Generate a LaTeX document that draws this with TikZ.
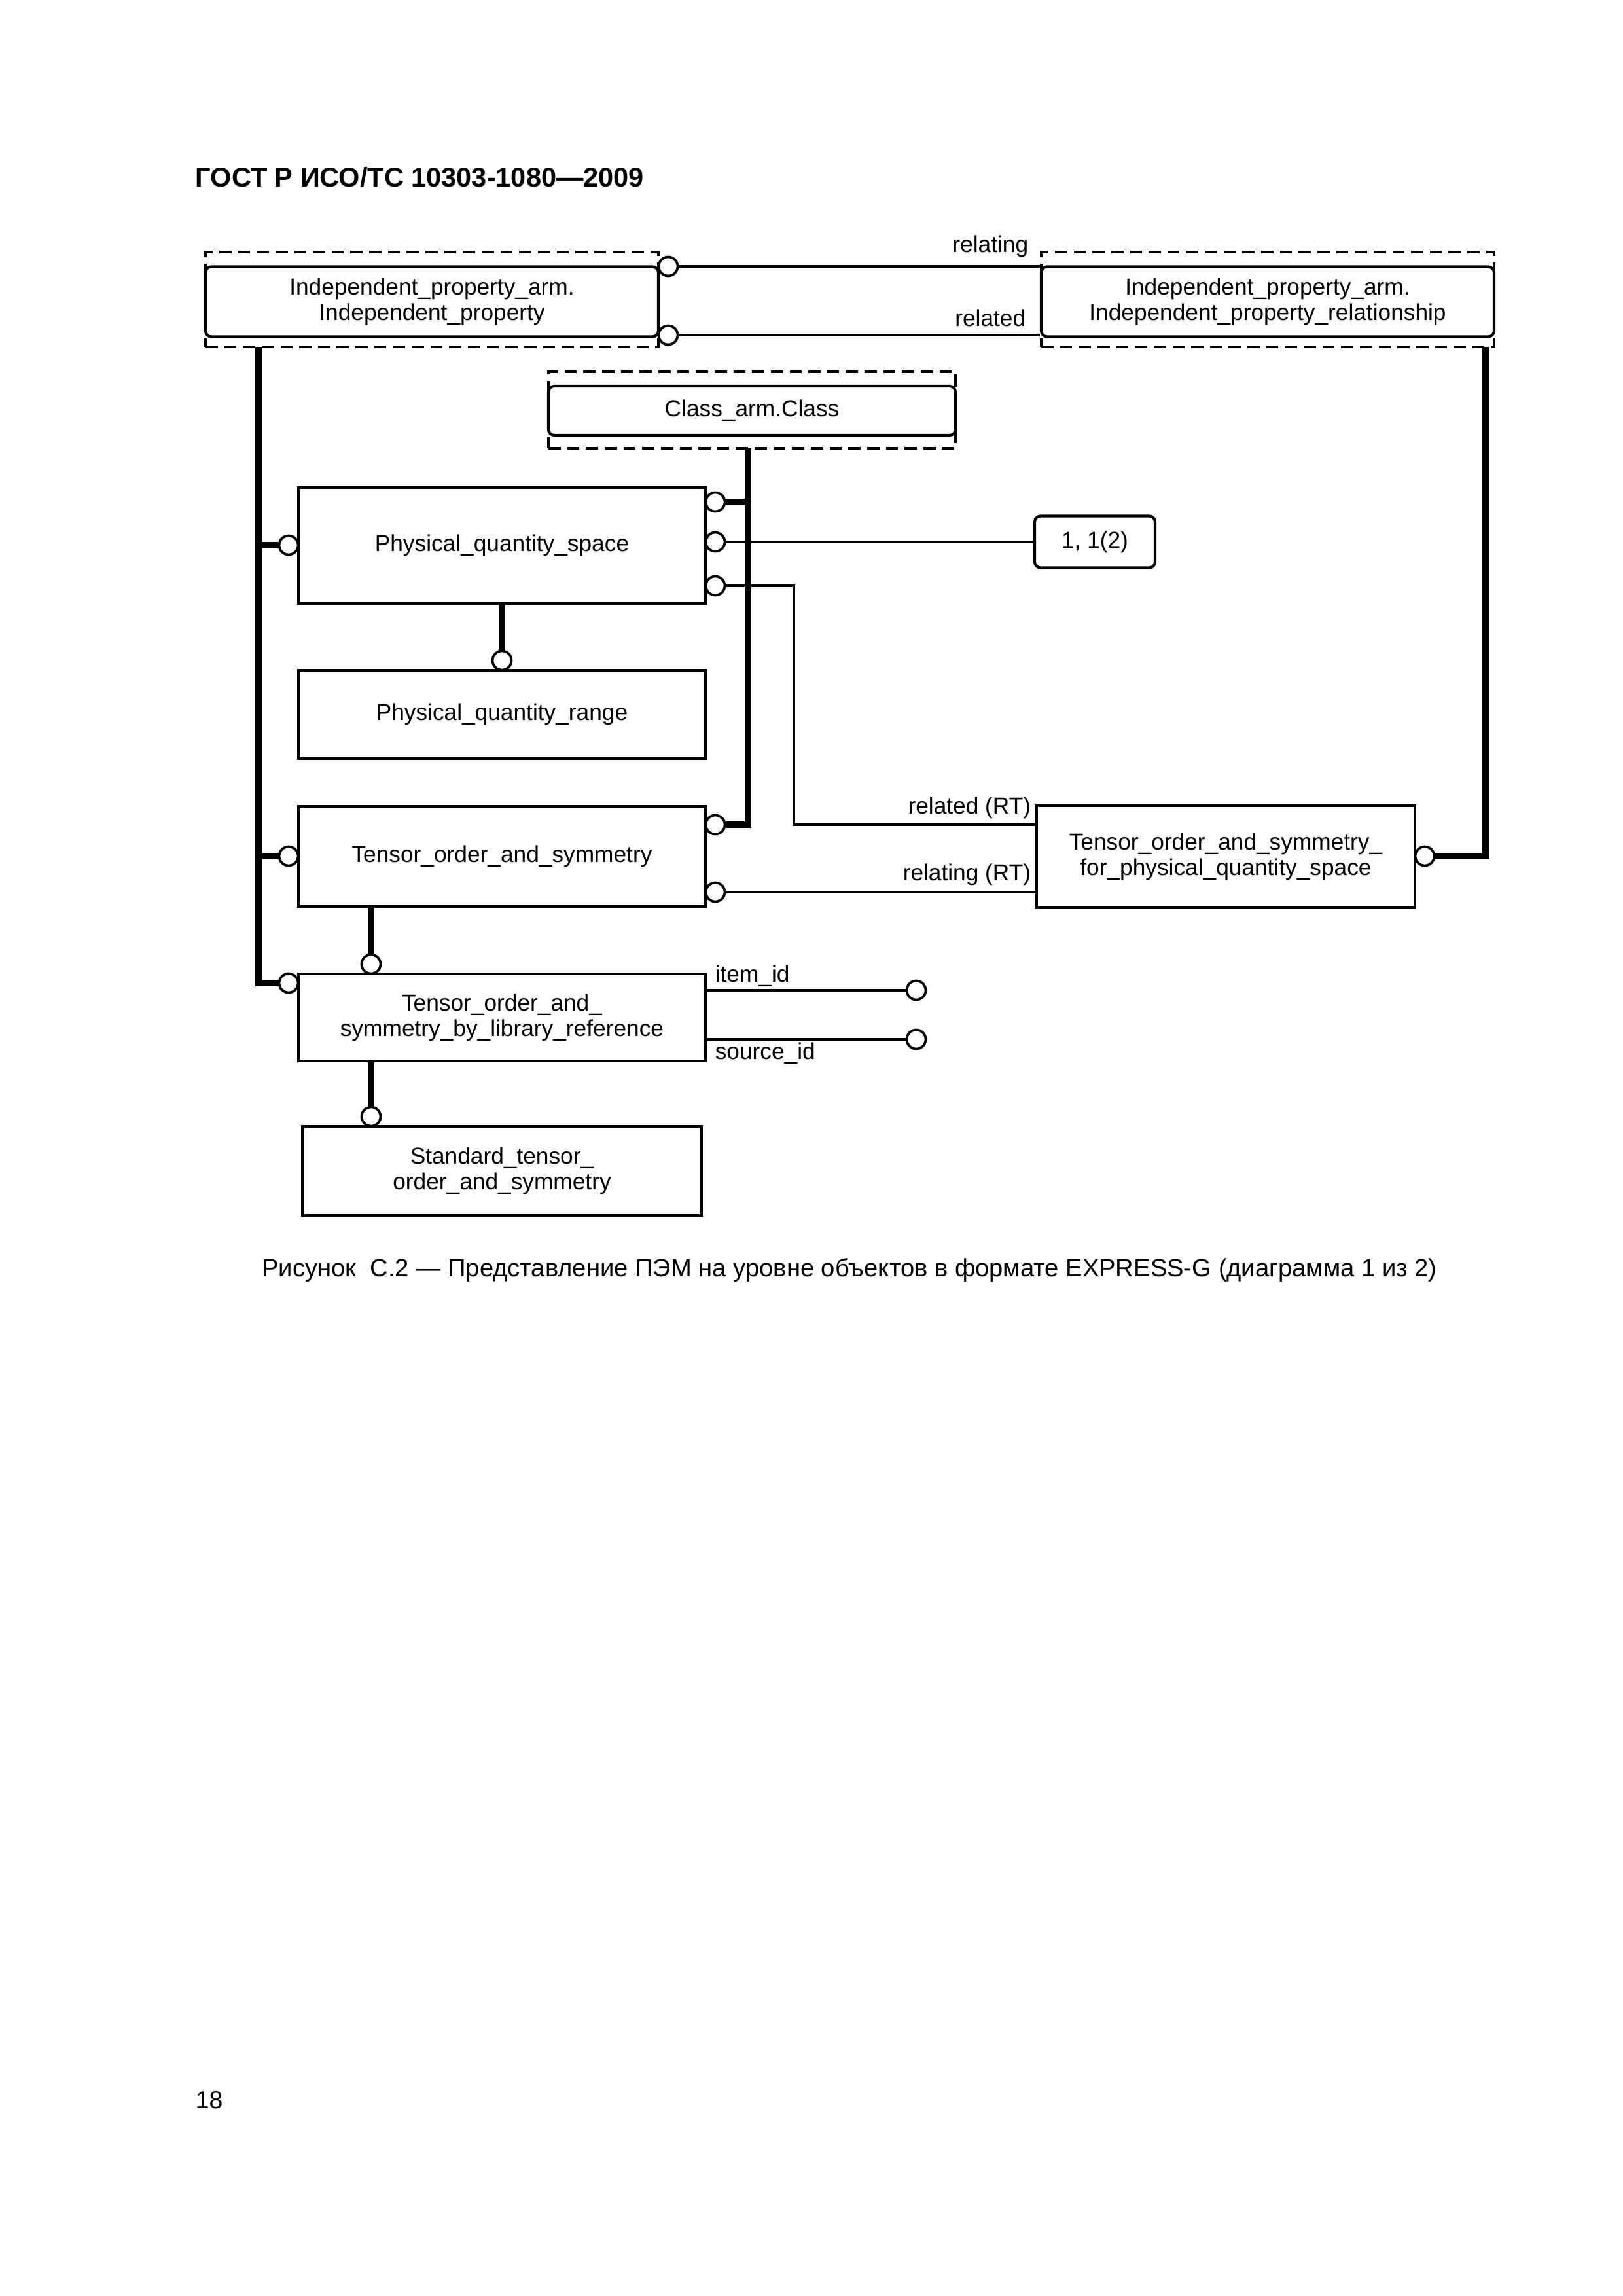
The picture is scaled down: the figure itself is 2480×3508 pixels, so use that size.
\documentclass[tikz,border=0pt]{standalone}
\usepackage{fontspec}
\setmainfont{Liberation Sans}
\newdimen\unitpx
\unitpx=0.08467mm
\newcommand\boxfont{\fontsize{8.5pt}{9.4pt}\selectfont}

\begin{document}
\begin{tikzpicture}[x=0.08467mm, y=-0.08467mm,
    ent/.style={draw, line width=1pt, align=center, inner sep=0pt, font=\boxfont},
    ifc/.style={draw, line width=1pt, dash pattern=on 4.5pt off 2.4pt},
    rnd/.style={ent, rounded corners=9*\unitpx},
    ring/.style={circle, draw, fill=white, line width=0.9pt, minimum size=29*\unitpx, inner sep=0pt},
    sub/.style={line width=2.2pt},
    rel/.style={line width=1pt},
    lbl/.style={font=\boxfont, inner sep=0pt}]
    \useasboundingbox (0,0) rectangle (2480,3508);

    \node[font=\bfseries\fontsize{10pt}{12pt}\selectfont, anchor=base west, inner sep=0pt] (title) at (298,285) {ГОСТ Р ИСО/ТС 10303-1080—2009};

    \node[ifc, minimum width=692*\unitpx, minimum height=145*\unitpx] (ipdash) at (660,457.5) {};
    \node[rnd, minimum width=692*\unitpx, minimum height=107*\unitpx] (iprnd) at (660,461) {Independent\_property\_arm.\\Independent\_property};
    \node[ifc, minimum width=692*\unitpx, minimum height=145*\unitpx] (iprdash) at (1937,457.5) {};
    \node[rnd, minimum width=692*\unitpx, minimum height=107*\unitpx] (iprrnd) at (1937,461) {Independent\_property\_arm.\\Independent\_property\_relationship};
    \node[ifc, minimum width=622*\unitpx, minimum height=117*\unitpx] (classdash) at (1149,626.5) {};
    \node[rnd, minimum width=622*\unitpx, minimum height=75*\unitpx] (classrnd) at (1149,627.5) {Class\_arm.Class};

    \node[ent, minimum width=622*\unitpx, minimum height=177*\unitpx] (pqs) at (767,833.5) {Physical\_quantity\_space};
    \node[ent, minimum width=622*\unitpx, minimum height=135*\unitpx] (pqr) at (767,1091.5) {Physical\_quantity\_range};
    \node[rnd, minimum width=184*\unitpx, minimum height=79*\unitpx] (card) at (1673,828) {1, 1(2)};
    \node[ent, minimum width=622*\unitpx, minimum height=153*\unitpx] (tos) at (767,1308.5) {Tensor\_order\_and\_symmetry};
    \node[ent, minimum width=578*\unitpx, minimum height=156*\unitpx] (tospqs) at (1873,1309) {Tensor\_order\_and\_symmetry\_\\for\_physical\_quantity\_space};
    \node[ent, minimum width=622*\unitpx, minimum height=133*\unitpx] (toslr) at (767,1554.5) {Tensor\_order\_and\_\\symmetry\_by\_library\_reference};
    \node[ent, minimum width=609*\unitpx, minimum height=136*\unitpx] (stos) at (767,1789) {Standard\_tensor\_\\order\_and\_symmetry};

    \node[ring] (ipA) at (1021,407) {};
    \node[ring] (ipB) at (1021,512) {};
    \node[ring] (pqsL) at (441,833) {};
    \node[ring] (pqsA) at (1093,767) {};
    \node[ring] (pqsB) at (1093,828) {};
    \node[ring] (pqsC) at (1093,895) {};
    \node[ring] (pqrT) at (767,1009) {};
    \node[ring] (tosL) at (441,1308) {};
    \node[ring] (tosA) at (1093,1260) {};
    \node[ring] (tosB) at (1093,1363) {};
    \node[ring] (toslrT) at (567,1473) {};
    \node[ring] (toslrL) at (441,1502) {};
    \node[ring] (idA) at (1400,1513) {};
    \node[ring] (idB) at (1400,1588) {};
    \node[ring] (stosT) at (567,1706) {};
    \node[ring] (tospqsR) at (2177,1308) {};

    \coordinate (ipfoot) at (395,530);
    \coordinate (clfoot) at (1143,685);
    \coordinate (iprfoot) at (2270,530);
    \coordinate (relbend) at (1213,1260);

    \draw[sub] (ipfoot) |- (toslrL);
    \draw[sub] (pqsL) -- (pqsL -| ipfoot);
    \draw[sub] (tosL) -- (tosL -| ipfoot);
    \draw[sub] (clfoot) |- (tosA);
    \draw[sub] (pqsA) -- (pqsA -| clfoot);
    \draw[sub] (tospqsR) -| (iprfoot);
    \draw[sub] (pqs) -- (pqrT);
    \draw[sub] (toslrT) -- (toslrT |- tos.south);
    \draw[sub] (stosT) -- (stosT |- toslr.south);

    \draw[rel] (ipA) -- (ipA -| iprrnd.west);
    \draw[rel] (ipB) -- (ipB -| iprrnd.west);
    \draw[rel] (pqsB) -- (card);
    \draw[rel] (pqsC) -| (relbend) -- (relbend -| tospqs.west);
    \draw[rel] (tosB) -- (tosB -| tospqs.west);
    \draw[rel] (idA) -- (idA -| toslr.east);
    \draw[rel] (idB) -- (idB -| toslr.east);

    \node[lbl, anchor=base east] (lrelating) at (1572,385) {relating};
    \node[lbl, anchor=base east] (lrelated) at (1568,498) {related};
    \node[lbl, anchor=base east] (lrelatedrt) at (1576,1243) {related (RT)};
    \node[lbl, anchor=base east] (lrelatingrt) at (1576,1345) {relating (RT)};
    \node[lbl, anchor=base west] (litem) at (1092,1500) {item\_id};
    \node[lbl, anchor=base west] (lsource) at (1092,1618) {source\_id};

    \node[font=\fontsize{9.2pt}{11pt}\selectfont, anchor=base, inner sep=0pt] (caption) at (1298,1950) {Рисунок\ \ С.2 — Представление ПЭМ на уровне объектов в формате EXPRESS-G (диаграмма 1 из 2)};
    \node[font=\fontsize{9pt}{11pt}\selectfont, anchor=base west, inner sep=0pt] (pagenum) at (298,3221) {18};
\end{tikzpicture}
\end{document}
